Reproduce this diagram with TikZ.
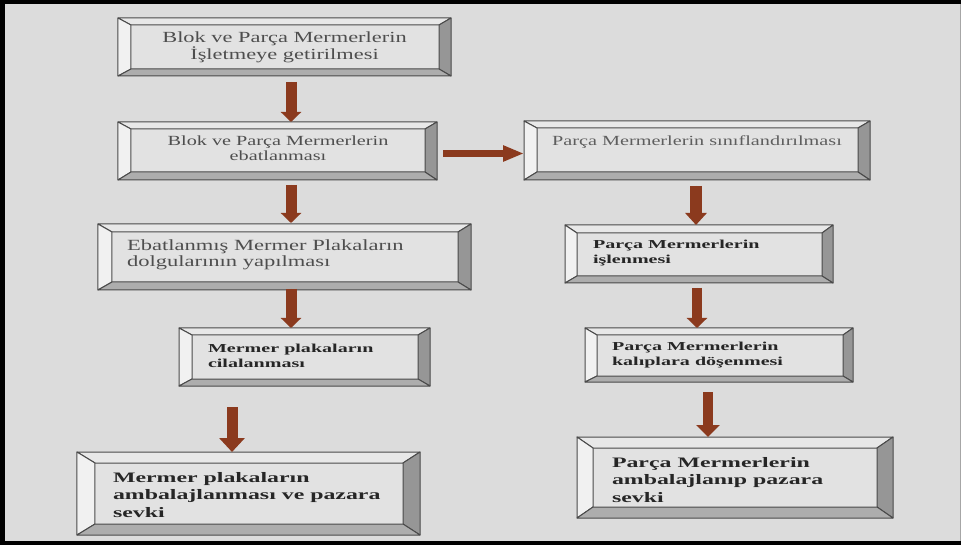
\documentclass[tikz,border=0pt]{standalone}
\usepackage{fontspec}
\setmainfont{Liberation Serif}
\newfontfamily\regfont{Liberation Serif}[FakeStretch=1.45]
\newfontfamily\boldfont{Liberation Serif}[FakeStretch=1.65]
\usetikzlibrary{arrows.meta,calc}
\definecolor{bgc}{HTML}{DCDCDC}
\definecolor{facec}{HTML}{E2E2E2}
\definecolor{bevtop}{HTML}{E8E8E8}
\definecolor{bevleft}{HTML}{F1F1F1}
\definecolor{bevright}{HTML}{969696}
\definecolor{bevbot}{HTML}{ADADAD}
\definecolor{edgec}{HTML}{4A4A4A}
\definecolor{arrowc}{HTML}{8B3A1E}
\definecolor{txtreg}{HTML}{4E4E4E}
\definecolor{txtlight}{HTML}{5E5E5E}
\definecolor{txtbold}{HTML}{262626}
\tikzset{
  boxnode/.style={inner sep=0pt, outer sep=0pt, draw=none},
  bev/.style={draw=edgec, line width=1bp, line join=round},
  txt/.style={inner sep=0pt, outer sep=0pt},
  regtxt/.style={txt, text=txtreg},
  boldtxt/.style={txt, text=txtbold},
  flowarrow/.style n args={3}{draw=arrowc, fill=arrowc, line width=#1bp,
    -{Triangle[length=#3bp,width=#2bp]}},
}
% name, x1, y1, x2, y2, bevel left, top, right, bottom
\newcommand\bevelbox[9]{%
  \pgfmathsetmacro\bbw{#4-#2}%
  \pgfmathsetmacro\bbh{#5-#3}%
  \pgfmathsetmacro\bbx{(#2+#4)/2}%
  \pgfmathsetmacro\bby{(#3+#5)/2}%
  \node[boxnode, minimum width=\bbw bp, minimum height=\bbh bp] (#1) at (\bbx,\bby) {};
  \path ([xshift=#6bp,yshift=-#7bp]#1.north west) coordinate (#1-itl)
        ([xshift=-#8bp,yshift=-#7bp]#1.north east) coordinate (#1-itr)
        ([xshift=-#8bp,yshift=#9bp]#1.south east) coordinate (#1-ibr)
        ([xshift=#6bp,yshift=#9bp]#1.south west) coordinate (#1-ibl);
  \fill[facec] (#1-itl) rectangle (#1-ibr);
  \filldraw[bev, fill=bevtop] (#1.north west) -- (#1.north east) -- (#1-itr) -- (#1-itl) -- cycle;
  \filldraw[bev, fill=bevleft] (#1.north west) -- (#1-itl) -- (#1-ibl) -- (#1.south west) -- cycle;
  \filldraw[bev, fill=bevright] (#1.north east) -- (#1.south east) -- (#1-ibr) -- (#1-itr) -- cycle;
  \filldraw[bev, fill=bevbot] (#1.south west) -- (#1-ibl) -- (#1-ibr) -- (#1.south east) -- cycle;
}
\begin{document}
\begin{tikzpicture}[x=1bp,y=-1bp]
\useasboundingbox (0,0) rectangle (961,545);
\fill[bgc] (0,0) rectangle (961,545);
\fill[black] (0,0) rectangle (961,4);
\fill[black] (0,0) rectangle (5,545);
\fill[black] (0,541) rectangle (961,545);
\fill[gray!70] (960,4) rectangle (961,541);

% boxes
\bevelbox{b1}{118}{18}{451}{76}{13}{7}{12}{7}
\bevelbox{b2}{118}{122}{437}{180}{13}{7}{12}{8}
\bevelbox{b3}{524}{121}{870}{180}{13}{7}{12}{8}
\bevelbox{b4}{98}{224}{471}{290}{14}{8}{13}{8}
\bevelbox{b5}{179}{328}{430}{386}{13}{7}{12}{7}
\bevelbox{b6}{77}{452}{420}{535}{18}{11}{17}{11}
\bevelbox{b7}{565}{225}{833}{283}{12}{8}{11}{7}
\bevelbox{b8}{585}{328}{853}{382}{12}{7}{10}{6}
\bevelbox{b9}{577}{437}{893}{518}{16}{11}{16}{11}

% texts
\node[regtxt, align=center, font=\regfont\fontsize{15.5}{17.1}\selectfont] (t1) at (284.5,47.5)
  {Blok ve Parça Mermerlerin\\İşletmeye getirilmesi};
\node[regtxt, align=center, font=\regfont\fontsize{14}{15.1}\selectfont] (t2) at (278,148.5)
  {Blok ve Parça Mermerlerin\\ebatlanması};
\node[txt, text=txtlight, font=\regfont\fontsize{14}{15.1}\selectfont] (t3) at (697,142.5)
  {Parça Mermerlerin sınıflandırılması};
\node[regtxt, align=left, anchor=west, font=\regfont\fontsize{15.6}{16.1}\selectfont] (t4) at (127,254.5)
  {Ebatlanmış Mermer Plakaların\\dolgularının yapılması};
\node[boldtxt, align=left, anchor=west, font=\boldfont\bfseries\fontsize{12.2}{15.1}\selectfont] (t5) at (208,356)
  {Mermer plakaların\\cilalanması};
\node[boldtxt, align=left, anchor=west, font=\boldfont\bfseries\fontsize{14.5}{17.6}\selectfont] (t6) at (113,495)
  {Mermer plakaların\\ambalajlanması ve pazara\\sevki};
\node[boldtxt, align=left, anchor=west, font=\boldfont\bfseries\fontsize{12.2}{15.1}\selectfont] (t7) at (593,253)
  {Parça Mermerlerin\\işlenmesi};
\node[boldtxt, align=left, anchor=west, font=\boldfont\bfseries\fontsize{12.2}{15.1}\selectfont] (t8) at (612,355)
  {Parça Mermerlerin\\kalıplara döşenmesi};
\node[boldtxt, align=left, anchor=west, font=\boldfont\bfseries\fontsize{14.5}{17.6}\selectfont] (t9) at (612,480)
  {Parça Mermerlerin\\ambalajlanıp pazara\\sevki};

% arrows
\coordinate (xa) at (291,0);
\coordinate (xb) at (232,0);
\coordinate (ya) at (0,153.5);
\coordinate (xc) at (696,0);
\coordinate (xd) at (697,0);
\coordinate (xe) at (708,0);
\draw[flowarrow={11}{20}{10}, shorten <=6bp] (b1.south -| xa) -- (b2.north -| xa);
\draw[flowarrow={11}{20}{10}, shorten <=5bp, shorten >=1bp] (b2.south -| xa) -- (b4.north -| xa);
\draw[flowarrow={11}{20}{10}, shorten <=-1bp] (b4.south -| xa) -- (b5.north -| xa);
\draw[flowarrow={11}{25}{14}, shorten <=21bp] (b5.south -| xb) -- (b6.north -| xb);
\draw[flowarrow={7}{15}{21}, shorten <=6bp] (b2.east |- ya) -- (b3.west |- ya);
\draw[flowarrow={12}{21}{12}, shorten <=6bp] (b3.south -| xc) -- (b7.north -| xc);
\draw[flowarrow={10}{20}{10}, shorten <=5bp] (b7.south -| xd) -- (b8.north -| xd);
\draw[flowarrow={10}{23}{12}, shorten <=10bp] (b8.south -| xe) -- (b9.north -| xe);
\end{tikzpicture}
\end{document}
